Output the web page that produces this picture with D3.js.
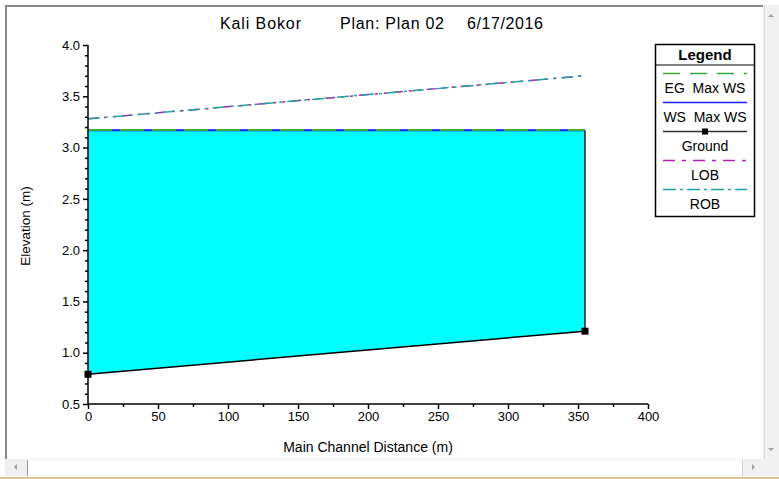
<!DOCTYPE html>
<html>
<head>
<meta charset="utf-8">
<script src="https://cdn.jsdelivr.net/npm/d3@7"></script>
<style>
  body { margin: 0; background: #fff; }
  svg text { font-family: "Liberation Sans", Arial, sans-serif; fill: #000; }
</style>
</head>
<body>
<main></main>
<script>
// profile data (main channel distance in m, elevations in m)
const stations = [0, 355]
const ground = [0.79, 1.21]
const wsMax = [3.17, 3.17]
const egMax = [3.172, 3.172]
const lob = [3.28, 3.70]
const rob = [3.28, 3.70]

const xTicks = [0, 50, 100, 150, 200, 250, 300, 350, 400]
const yTicks = [0.5, 1.0, 1.5, 2.0, 2.5, 3.0, 3.5, 4.0]

const legendItems = ['EG  Max WS', 'WS  Max WS', 'Ground', 'LOB', 'ROB']

const width = 779
const height = 479
const plot = { left: 88, right: 648, top: 45, bottom: 404 }

const svg = d3.select('main')
              .append('svg')
              .attr('width', width)
              .attr('height', height)

// window frame + scrollbars
const drawFrame = () => {
  svg.append('rect').attr('x', 5).attr('y', 5).attr('width', 758).attr('height', 454).attr('fill', '#fff')
  svg.append('rect').attr('x', 5).attr('y', 5).attr('width', 758).attr('height', 2).attr('fill', '#8a8a8a')
  svg.append('rect').attr('x', 5).attr('y', 5).attr('width', 2).attr('height', 454).attr('fill', '#8a8a8a')
  // right scrollbar
  svg.append('rect').attr('x', 763).attr('y', 5).attr('width', 16).attr('height', 471).attr('fill', '#f0f0f0')
  svg.append('line').attr('x1', 764.5).attr('x2', 764.5).attr('y1', 5).attr('y2', 459).attr('stroke', '#d8d8d8')
  svg.append('path').attr('d', 'M768,17 L771,14 L774,17 Z').attr('fill', '#a0a0a0')
  svg.append('path').attr('d', 'M768,448 L771,451 L774,448 Z').attr('fill', '#a0a0a0')
  // bottom scrollbar
  svg.append('rect').attr('x', 5).attr('y', 459).attr('width', 758).attr('height', 17).attr('fill', '#f0f0f0')
  svg.append('rect').attr('x', 27).attr('y', 460).attr('width', 716).attr('height', 15).attr('fill', '#fff')
  svg.append('path').attr('d', 'M14,467 L17,464 L17,470 Z').attr('fill', '#a0a0a0')
  svg.append('path').attr('d', 'M755,467 L752,464 L752,470 Z').attr('fill', '#a0a0a0')
  svg.append('line').attr('x1', 27.5).attr('x2', 27.5).attr('y1', 460).attr('y2', 476).attr('stroke', '#9a9a9a')
  svg.append('line').attr('x1', 742.5).attr('x2', 742.5).attr('y1', 460).attr('y2', 476).attr('stroke', '#d0d0d0')
  svg.append('rect').attr('x', 0).attr('y', 477).attr('width', width).attr('height', 2).attr('fill', '#e6c28a')
}

const x = d3.scaleLinear().domain([0, 400]).range([plot.left, plot.right])
const y = d3.scaleLinear().domain([0.5, 4.0]).range([plot.bottom, plot.top])

const drawTitle = () => {
  const t = svg.append('g').attr('font-size', 16)
  t.append('text').attr('x', 220).attr('y', 29).attr('textLength', 81).text('Kali Bokor')
  t.append('text').attr('x', 340).attr('y', 29).attr('textLength', 104).text('Plan: Plan 02')
  t.append('text').attr('x', 467).attr('y', 29).attr('textLength', 76).text('6/17/2016')
}

const drawData = () => {
  const pts = stations.map((s, i) => ({ s, g: ground[i], ws: wsMax[i], eg: egMax[i], lob: lob[i], rob: rob[i] }))

  const area = d3.area().x(d => x(d.s)).y0(d => y(d.g)).y1(d => y(d.ws))
  svg.append('path').datum(pts).attr('d', area).attr('fill', '#00ffff')

  const last = pts[pts.length - 1]
  svg.append('line')
     .attr('x1', x(last.s)).attr('x2', x(last.s))
     .attr('y1', y(last.ws)).attr('y2', y(last.g))
     .attr('stroke', '#222').attr('stroke-width', 1.5)

  const line = key => d3.line().x(d => x(d.s)).y(d => y(d[key]))

  svg.append('path').datum(pts).attr('d', line('ws')).attr('fill', 'none')
     .attr('stroke', '#1a1aff').attr('stroke-width', 2)
  svg.append('path').datum(pts).attr('d', line('eg')).attr('fill', 'none')
     .attr('stroke', '#3aa83a').attr('stroke-width', 2).attr('stroke-dasharray', '24,8')
  svg.append('path').datum(pts).attr('d', line('lob')).attr('fill', 'none')
     .attr('stroke', '#b020b0').attr('stroke-width', 1.5).attr('stroke-dasharray', '10,6,3,6,3,6')
  svg.append('path').datum(pts).attr('d', line('rob')).attr('fill', 'none')
     .attr('stroke', '#22a0a0').attr('stroke-width', 1.5).attr('stroke-dasharray', '12,5,3,5')

  svg.append('path').datum(pts).attr('d', line('g')).attr('fill', 'none')
     .attr('stroke', '#000').attr('stroke-width', 1.5)
  svg.selectAll('rect.marker')
     .data(pts)
     .enter()
     .append('rect')
     .attr('class', 'marker')
     .attr('x', d => x(d.s) - 3.5)
     .attr('y', d => y(d.g) - 3.5)
     .attr('width', 7)
     .attr('height', 7)
     .attr('fill', '#000')
}

const drawAxes = () => {
  const minorY = d3.range(5, 41).map(v => v / 10).filter(v => !yTicks.some(t => Math.abs(t - v) < 1e-9))
  const minorX = d3.range(25, 400, 50)

  const yAxis = svg.append('g')
     .attr('transform', `translate(${plot.left},0)`)
     .call(d3.axisLeft(y).tickValues(yTicks).tickSize(5).tickPadding(3).tickFormat(d3.format('.1f')))
  svg.append('g')
     .attr('transform', `translate(${plot.left},0)`)
     .call(d3.axisLeft(y).tickValues(minorY).tickSize(3).tickFormat(''))
     .select('.domain').remove()

  const xAxis = svg.append('g')
     .attr('transform', `translate(0,${plot.bottom})`)
     .call(d3.axisBottom(x).tickValues(xTicks).tickSize(5).tickPadding(3))
  svg.append('g')
     .attr('transform', `translate(0,${plot.bottom})`)
     .call(d3.axisBottom(x).tickValues(minorX).tickSize(3).tickFormat(''))
     .select('.domain').remove()

  svg.selectAll('.tick text').attr('font-size', 13).attr('font-family', '"Liberation Sans", Arial, sans-serif')
  svg.selectAll('.domain, .tick line').attr('stroke', '#000').attr('stroke-width', 1.5)
  yAxis.select('.domain').attr('d', `M0,${plot.top}V${plot.bottom}`)
  xAxis.select('.domain').attr('d', `M${plot.left},0H${plot.right}`)

  svg.append('text').attr('x', 368).attr('y', 452).attr('text-anchor', 'middle')
     .attr('font-size', 14).text('Main Channel Distance (m)')
  svg.append('text').attr('transform', 'translate(30,226) rotate(-90)').attr('text-anchor', 'middle')
     .attr('font-size', 13.5).text('Elevation (m)')
}

const drawLegend = () => {
  const g = svg.append('g')
  g.append('rect').attr('x', 655.5).attr('y', 44.5).attr('width', 99).attr('height', 172)
   .attr('fill', '#fff').attr('stroke', '#000').attr('stroke-width', 1.5)
  g.append('line').attr('x1', 655.5).attr('x2', 754.5).attr('y1', 65).attr('y2', 65).attr('stroke', '#000')
  g.append('text').attr('x', 705).attr('y', 60).attr('text-anchor', 'middle')
   .attr('font-size', 15).attr('font-weight', 'bold').text('Legend')

  const styles = [
    { stroke: '#3aa83a', dash: '17,10', w: 1.5 },
    { stroke: '#1a1aff', dash: null, w: 1.5 },
    { stroke: '#333', dash: null, w: 1.5 },
    { stroke: '#b020b0', dash: '12,7,4,7', w: 1.5 },
    { stroke: '#22a0a0', dash: '13,4,3,4', w: 1.5 }
  ]
  const rowY = d3.scaleLinear().domain([0, 4]).range([73.5, 189.5])
  legendItems.forEach((name, i) => {
    const ly = rowY(i)
    g.append('line').attr('x1', 663).attr('x2', 747).attr('y1', ly).attr('y2', ly)
     .attr('stroke', styles[i].stroke).attr('stroke-width', styles[i].w)
     .attr('stroke-dasharray', styles[i].dash)
    if (name === 'Ground') {
      g.append('rect').attr('x', 702).attr('y', ly - 3).attr('width', 6).attr('height', 6).attr('fill', '#000')
    }
    g.append('text').attr('x', 705).attr('y', ly + 19).attr('text-anchor', 'middle')
     .attr('font-size', 14).attr('xml:space', 'preserve').text(name)
  })
}

drawFrame()
drawTitle()
drawData()
drawAxes()
drawLegend()
</script>
</body>
</html>
